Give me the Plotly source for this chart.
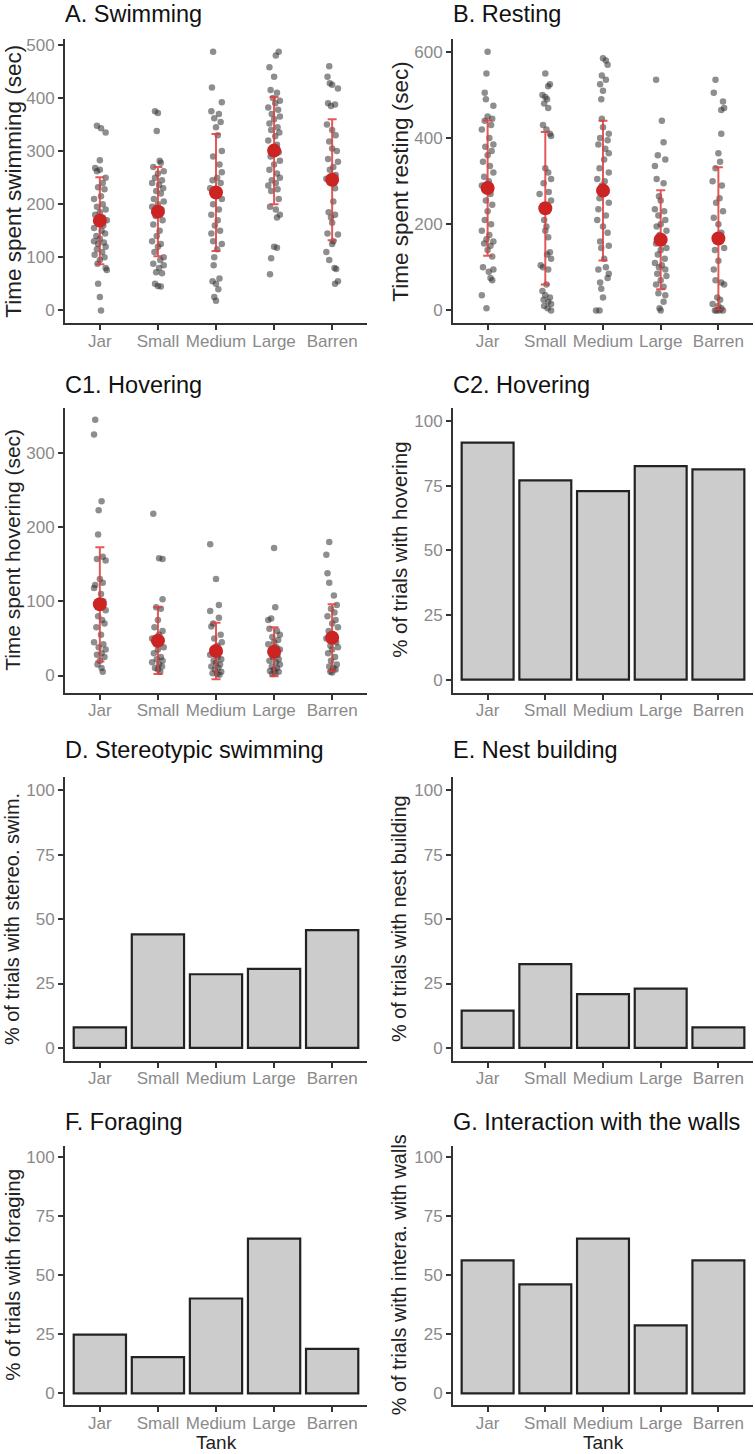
import plotly.graph_objects as go

# ---------------- data ----------------
tanks = ["Jar", "Small", "Medium", "Large", "Barren"]

# Panel A: time spent swimming (sec) — (jitter offset, value)
swim_jar = [(-0.05,348),(0.02,343),(0.1,335),(0.0,283),(-0.08,268),(0.0,265),(-0.05,262),(0.1,250),
            (0.05,240),(-0.03,232),(0.08,228),(0.02,215),(-0.1,210),(0.05,200),(-0.05,195),(0.1,190),
            (0.0,185),(-0.08,180),(0.05,175),(0.12,170),(-0.02,165),(0.06,160),(-0.1,155),(0.03,150),
            (0.09,145),(-0.06,140),(0.0,135),(-0.1,130),(0.07,128),(-0.03,125),(0.1,120),(-0.05,115),
            (0.04,110),(-0.09,105),(0.08,100),(0.0,95),(-0.04,88),(0.1,80),(0.12,76),(-0.03,50),
            (0.0,25),(0.02,0)]
swim_small = [(-0.05,375),(0.0,372),(-0.02,338),(0.03,282),(0.05,278),(-0.08,270),(0.1,262),(0.0,258),
              (-0.05,250),(0.07,245),(-0.1,240),(0.02,236),(0.09,230),(-0.03,225),(0.05,220),(-0.07,210),
              (0.1,205),(0.0,200),(-0.1,195),(0.06,190),(0.02,185),(-0.04,178),(0.08,170),(-0.08,162),
              (0.03,150),(-0.02,140),(-0.1,130),(0.05,125),(0.0,120),(-0.06,110),(0.1,100),(0.04,95),
              (-0.08,88),(0.1,85),(0.02,80),(-0.03,72),(0.07,70),(-0.05,50),(0.0,46),(0.05,45)]
swim_medium = [(-0.05,487),(-0.07,420),(0.1,392),(-0.08,375),(0.05,370),(-0.03,362),(0.08,355),(0.0,345),
               (0.03,330),(0.1,300),(-0.05,290),(0.06,275),(0.1,260),(0.02,250),(-0.06,245),(0.08,240),
               (-0.1,230),(0.04,222),(0.1,210),(-0.05,200),(0.05,190),(-0.08,180),(0.03,170),(-0.02,160),
               (0.07,150),(-0.08,145),(-0.05,130),(0.1,125),(0.02,115),(-0.03,100),(-0.04,85),(0.06,60),
               (-0.06,55),(0.0,50),(0.04,40),(-0.03,25),(0.0,18)]
swim_large = [(0.08,487),(0.03,480),(-0.08,458),(0.0,440),(-0.06,415),(0.05,410),(-0.02,400),(0.1,395),
              (0.02,390),(-0.1,382),(0.07,378),(-0.04,370),(0.1,365),(0.0,360),(-0.08,352),(0.06,345),
              (-0.05,340),(0.09,335),(0.02,328),(-0.1,320),(0.05,312),(-0.03,305),(0.08,298),(-0.06,290),
              (0.1,282),(0.0,275),(-0.08,265),(0.05,258),(0.1,250),(-0.04,245),(0.03,240),(-0.1,235),
              (0.06,228),(-0.05,225),(0.08,210),(-0.07,195),(0.03,190),(0.1,180),(0.05,175),(0.0,120),
              (0.05,118),(-0.05,98),(-0.07,68)]
swim_barren = [(-0.05,460),(-0.08,440),(-0.04,428),(0.0,425),(0.1,418),(-0.07,390),(0.05,388),(-0.02,385),
               (-0.09,350),(0.0,340),(0.06,330),(-0.05,318),(0.0,305),(0.08,300),(-0.07,285),(0.1,280),
               (0.02,270),(-0.04,265),(0.06,255),(-0.1,248),(0.03,240),(0.05,230),(0.02,205),(-0.06,185),
               (0.05,180),(-0.02,175),(0.0,165),(-0.08,145),(0.1,143),(0.02,130),(0.0,125),(-0.1,110),
               (-0.05,95),(0.04,80),(0.07,78),(0.1,55),(0.05,50)]
swim_mean = [169, 186, 222, 301, 246]
swim_sd = [82, 84, 110, 101, 114]

# Panel B: time spent resting (sec)
rest_jar = [(0.0,600),(-0.02,550),(-0.05,505),(-0.03,490),(0.1,475),(0.0,450),(0.08,445),(-0.05,440),
            (0.06,430),(-0.1,420),(0.03,400),(0.1,385),(-0.04,380),(0.07,370),(0.0,360),(-0.08,345),
            (0.04,335),(0.1,320),(-0.06,310),(0.02,300),(-0.1,290),(0.05,270),(-0.03,255),(0.08,245),
            (0.0,230),(-0.05,210),(0.06,200),(-0.1,185),(0.03,175),(-0.02,165),(0.1,160),(-0.06,155),
            (0.05,150),(0.0,140),(0.08,125),(-0.08,100),(0.1,95),(0.02,90),(0.05,75),(0.08,70),
            (-0.1,35),(-0.02,5)]
rest_small = [(0.0,550),(0.08,525),(0.05,520),(-0.05,500),(0.0,495),(0.03,490),(-0.02,480),(0.05,470),
              (-0.04,430),(0.02,420),(0.08,410),(0.1,405),(0.0,330),(0.05,320),(0.1,305),(-0.03,295),
              (0.06,275),(-0.1,270),(0.1,255),(-0.02,210),(0.02,195),(0.0,185),(0.05,170),(0.08,135),
              (0.03,130),(0.1,120),(-0.08,105),(-0.04,100),(0.05,95),(0.02,60),(-0.05,45),(0.0,35),
              (0.08,30),(-0.03,25),(0.05,20),(0.1,15),(-0.02,10),(0.04,5),(0.1,0)]
rest_medium = [(0.0,585),(0.05,580),(0.08,570),(-0.02,545),(0.05,535),(-0.05,525),(0.0,510),(-0.03,490),
               (-0.02,445),(0.0,425),(0.1,410),(-0.05,400),(0.08,395),(-0.08,385),(0.04,375),(0.1,365),
               (0.02,350),(-0.06,330),(0.1,320),(-0.1,305),(0.03,300),(-0.02,290),(0.06,275),(-0.06,260),
               (0.1,250),(-0.08,235),(0.05,220),(-0.1,210),(0.0,195),(0.08,180),(-0.05,160),(0.1,150),
               (-0.03,145),(0.02,120),(0.05,100),(-0.08,95),(0.1,85),(0.08,75),(-0.05,65),(-0.03,50),
               (0.0,30),(-0.12,0),(-0.06,0)]
rest_large = [(-0.08,535),(0.02,440),(0.05,390),(-0.05,360),(0.08,350),(-0.1,335),(-0.07,305),(0.05,295),
              (-0.03,265),(0.0,255),(-0.1,235),(0.06,230),(-0.04,220),(0.08,210),(0.0,200),(-0.07,195),
              (0.1,185),(-0.02,175),(0.05,165),(-0.08,155),(0.1,145),(0.0,140),(-0.05,130),(0.07,120),
              (-0.1,110),(0.02,105),(-0.03,100),(0.08,95),(-0.06,85),(0.1,80),(0.0,70),(-0.08,60),
              (0.05,55),(-0.04,40),(0.08,35),(0.05,20),(-0.02,5),(0.0,0)]
rest_barren = [(-0.05,535),(-0.08,505),(0.08,485),(0.1,470),(0.05,465),(0.05,410),(0.0,365),(0.03,345),
               (-0.05,330),(-0.1,300),(0.06,290),(0.02,260),(-0.04,250),(0.08,230),(-0.08,215),(0.0,200),
               (0.05,180),(-0.02,165),(0.1,145),(-0.06,140),(0.0,115),(-0.08,95),(-0.05,70),(0.05,65),
               (0.1,60),(-0.02,30),(0.03,25),(-0.1,15),(0.0,10),(0.05,5),(-0.06,0),(0.02,0),(0.08,0),(-0.03,0)]
rest_mean = [284, 237, 278, 164, 167]
rest_sd = [157, 177, 162, 115, 165]

# Panel C1: time spent hovering (sec)
hov_jar = [(-0.08,345),(-0.1,325),(0.03,235),(-0.02,223),(-0.03,190),(0.05,160),(-0.05,157),(0.1,155),
           (0.0,130),(0.05,125),(-0.08,122),(-0.1,118),(0.02,110),(0.06,100),(-0.05,95),(0.1,88),
           (-0.03,80),(0.04,75),(0.08,70),(-0.06,65),(0.02,55),(-0.1,45),(0.06,42),(-0.02,38),
           (0.1,35),(0.03,30),(-0.05,28),(0.08,25),(0.0,20),(-0.04,15),(0.03,10),(0.05,5)]
hov_small = [(-0.08,218),(0.02,158),(0.08,157),(0.08,103),(-0.03,92),(0.05,90),(0.0,75),(-0.06,65),
             (0.08,60),(0.02,55),(-0.1,50),(0.06,48),(-0.03,42),(0.1,38),(0.0,35),(-0.07,30),
             (0.05,25),(-0.02,22),(0.08,20),(-0.1,18),(0.02,15),(0.07,12),(-0.05,10),(0.0,8),(0.04,5)]
hov_medium = [(-0.1,177),(0.0,130),(0.05,95),(-0.1,87),(0.05,78),(-0.05,70),(-0.08,66),(0.08,55),
              (-0.03,50),(0.1,45),(0.02,40),(-0.06,35),(0.06,32),(-0.1,28),(0.03,25),(0.09,22),
              (-0.04,20),(0.0,17),(0.07,15),(-0.08,12),(0.04,10),(-0.02,8),(0.09,5),(-0.06,3),
              (0.02,2),(0.06,1)]
hov_large = [(0.0,172),(0.02,92),(-0.05,77),(-0.1,75),(-0.08,63),(0.05,60),(0.1,55),(-0.03,52),
             (0.07,48),(0.0,45),(-0.1,42),(0.04,38),(0.1,35),(-0.05,32),(0.06,28),(-0.02,25),
             (0.08,22),(-0.08,20),(0.03,18),(0.1,15),(-0.04,12),(0.05,10),(0.0,8),(-0.07,6),
             (0.08,5),(0.02,3),(-0.03,2)]
hov_barren = [(-0.05,180),(-0.1,163),(-0.08,138),(-0.05,125),(0.03,108),(0.08,95),(-0.02,90),(0.04,85),
              (-0.08,80),(0.06,75),(0.0,70),(0.1,65),(-0.06,60),(0.03,55),(-0.1,50),(0.07,45),
              (-0.03,40),(0.1,38),(0.0,35),(-0.07,30),(0.05,25),(-0.02,20),(0.08,15),(-0.05,12),
              (0.02,10),(0.06,8),(-0.03,5),(0.0,4)]
hov_mean = [96, 47, 33, 32, 51]
hov_sd = [77, 45, 38, 33, 45]

# Bar panels: % of trials
pct_hovering = [91.7, 77.1, 72.9, 82.6, 81.3]
pct_stereo = [8.0, 44.1, 28.6, 30.7, 45.7]
pct_nest = [14.5, 32.5, 20.9, 23.0, 8.0]
pct_forage = [24.9, 15.3, 40.2, 65.6, 18.8]
pct_walls = [56.4, 46.2, 65.6, 28.8, 56.4]

# ---------------- figure ----------------
W, H = 755, 1454
FONT = "Liberation Sans, Arial, Helvetica, sans-serif"
xs = list(range(1, 6))


def fx(p):
    return p / W


def fy(p):
    return 1 - p / H


LEFT = (65, 367)
RIGHT = (453, 753)
ROWS = [(36, 321), (406, 691), (776, 1060), (1145, 1405)]
TITLE_BASE = [20, 392, 758, 1130]      # baseline of panel titles per row (px)
YTITLE_LEFT = {LEFT: 0, RIGHT: 387}    # left edge of the rotated y-title box (px)

panels = [
    dict(kind="pts", col=LEFT, row=0, title="A. Swimming", ytitle="Time spent swimming (sec)", ysz=22.5,
         groups=[swim_jar, swim_small, swim_medium, swim_large, swim_barren], mean=swim_mean, sd=swim_sd,
         yrange=[-24.4, 511.3], ticks=[0, 100, 200, 300, 400, 500]),
    dict(kind="pts", col=RIGHT, row=0, title="B. Resting", ytitle="Time spent resting (sec)", ysz=22.5,
         groups=[rest_jar, rest_small, rest_medium, rest_large, rest_barren], mean=rest_mean, sd=rest_sd,
         yrange=[-30, 630], ticks=[0, 200, 400, 600]),
    dict(kind="pts", col=LEFT, row=1, title="C1. Hovering", ytitle="Time spent hovering (sec)", ysz=21,
         groups=[hov_jar, hov_small, hov_medium, hov_large, hov_barren], mean=hov_mean, sd=hov_sd,
         yrange=[-23, 360.5], ticks=[0, 100, 200, 300]),
    dict(kind="bar", col=RIGHT, row=1, title="C2. Hovering", ytitle="% of trials with hovering", ysz=20.5,
         vals=pct_hovering),
    dict(kind="bar", col=LEFT, row=2, title="D. Stereotypic swimming", ytitle="% of trials with stereo. swim.",
         ysz=20, vals=pct_stereo),
    dict(kind="bar", col=RIGHT, row=2, title="E. Nest building", ytitle="% of trials with nest building",
         ysz=20, vals=pct_nest),
    dict(kind="bar", col=LEFT, row=3, title="F. Foraging", ytitle="% of trials with foraging", ysz=20.5,
         vals=pct_forage, xtitle="Tank"),
    dict(kind="bar", col=RIGHT, row=3, title="G. Interaction with the walls",
         ytitle="% of trials with intera. with walls", ysz=20, vals=pct_walls, xtitle="Tank"),
]

fig = go.Figure()
annotations = []
layout_axes = {}
TSZ = 23.5

for i, p in enumerate(panels, start=1):
    xa = "x" if i == 1 else f"x{i}"
    ya = "y" if i == 1 else f"y{i}"
    x0, x1 = p["col"]
    y0, y1 = ROWS[p["row"]]

    if p["kind"] == "pts":
        for gi, grp in enumerate(p["groups"]):
            fig.add_trace(go.Scatter(
                x=[gi + 1 + d for d, _ in grp], y=[v for _, v in grp], mode="markers",
                marker=dict(size=6.5, color="rgba(50,50,50,0.55)", line=dict(width=0)),
                xaxis=xa, yaxis=ya, hoverinfo="skip"))
        fig.add_trace(go.Scatter(
            x=xs, y=p["mean"], mode="markers", marker=dict(size=1, opacity=0),
            error_y=dict(type="data", array=p["sd"], visible=True, color="rgba(222,60,60,0.85)",
                         thickness=2, width=4.5),
            xaxis=xa, yaxis=ya, hoverinfo="skip"))
        fig.add_trace(go.Scatter(
            x=xs, y=p["mean"], mode="markers",
            marker=dict(size=14, color="#CC2323", line=dict(width=0)),
            xaxis=xa, yaxis=ya))
        yrange = p["yrange"]
        ticks = p["ticks"]
    else:
        fig.add_trace(go.Bar(
            x=xs, y=p["vals"], width=0.9,
            marker=dict(color="#CCCCCC", line=dict(color="#222222", width=2.2)),
            xaxis=xa, yaxis=ya))
        yrange = [-5, 105]
        ticks = [0, 25, 50, 75, 100]

    common = dict(showline=True, linecolor="#333333", linewidth=2, ticks="outside", ticklen=5,
                  tickwidth=1.5, tickcolor="#333333", showgrid=False, zeroline=False,
                  tickfont=dict(family=FONT, size=17, color="#8a8a8a"), fixedrange=True)
    layout_axes["xaxis" if i == 1 else f"xaxis{i}"] = dict(
        domain=[fx(x0), fx(x1)], range=[0.4, 5.6], tickvals=xs, ticktext=tanks,
        anchor=ya, ticklabelstandoff=-4, **common)
    layout_axes["yaxis" if i == 1 else f"yaxis{i}"] = dict(
        domain=[fy(y1), fy(y0)], range=yrange, tickvals=ticks, anchor=xa, **common)

    # panel title (box bottom = baseline + descent)
    base = TITLE_BASE[p["row"]]
    annotations.append(dict(text=p["title"], xref="paper", yref="paper", x=fx(x0 - 1),
                            y=fy(base + 0.212 * TSZ), xanchor="left", yanchor="bottom", showarrow=False,
                            borderpad=0, font=dict(family=FONT, size=TSZ, color="#111111")))
    # y-axis title
    annotations.append(dict(text=p["ytitle"], xref="paper", yref="paper",
                            x=fx(YTITLE_LEFT[p["col"]]), y=fy((y0 + y1) / 2), xanchor="left",
                            yanchor="middle", textangle=-90, showarrow=False, borderpad=0,
                            font=dict(family=FONT, size=p["ysz"], color="#222222")))
    if p.get("xtitle"):
        annotations.append(dict(text=p["xtitle"], xref="paper", yref="paper",
                                x=fx((x0 + x1) / 2), y=0, xanchor="center", yanchor="bottom",
                                showarrow=False, borderpad=0,
                                font=dict(family=FONT, size=19, color="#222222")))

fig.update_layout(
    width=W, height=H, margin=dict(l=0, r=0, t=0, b=0),
    paper_bgcolor="white", plot_bgcolor="white", showlegend=False,
    annotations=annotations, bargap=0.1, **layout_axes)

# the page body has a default 8px margin; remove it so the figure fills the 755x1454 window
fig.write_html("out.html", config={"displayModeBar": False},
               post_script="document.body.style.margin='0px';")
